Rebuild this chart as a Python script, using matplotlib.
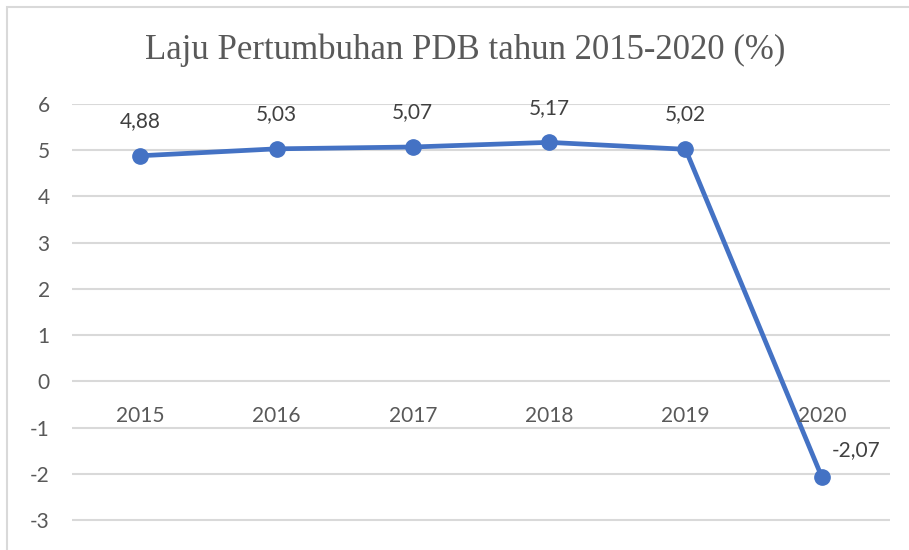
import matplotlib.pyplot as plt
from matplotlib.patches import Rectangle

years = ['2015', '2016', '2017', '2018', '2019', '2020']
growth = [4.88, 5.03, 5.07, 5.17, 5.02, -2.07]
labels = ['4,88', '5,03', '5,07', '5,17', '5,02', '-2,07']
yticks = [-3, -2, -1, 0, 1, 2, 3, 4, 5, 6]

blue = '#4472C4'
grey = '#595959'
grid = '#D9D9D9'

plt.rcParams['font.family'] = ['Lato', 'DejaVu Sans']

fig = plt.figure(figsize=(9.09, 5.5), dpi=100)
W, H = 909, 550

# chart frame (cropped at right/bottom)
fig.patches.append(Rectangle((7 / W, -0.1), 1.2, 1 - 7 / H + 0.1,
                             transform=fig.transFigure, fill=False,
                             edgecolor=grid, linewidth=1.5))

ax = fig.add_axes([72 / W, 0, (890 - 72) / W, 1 - 104 / H])
x = list(range(len(years)))
ax.plot(x, growth, color=blue, linewidth=3.4, marker='o', markersize=11,
        solid_capstyle='round', zorder=3)

ax.set_xlim(-0.5, len(years) - 0.5)
ax.set_ylim(-3.65, 6)
ax.set_yticks(yticks)
ax.set_yticklabels([str(v) for v in yticks])
ax.tick_params(axis='y', length=0, pad=16, labelsize=15, labelcolor=grey)
ax.set_xticks([])
for s in ax.spines.values():
    s.set_visible(False)
ax.grid(axis='y', color=grid, linewidth=1.5)
ax.set_axisbelow(True)
ax.patch.set_alpha(0)

# category labels sit just under the zero line
for xi, yr in zip(x, years):
    ax.annotate(yr, (xi, 0), xytext=(0, -25), textcoords='offset points',
                ha='center', va='center', fontsize=15, color=grey)

# data labels
for xi, v, lab in zip(x, growth, labels):
    if v < 0:
        off = (25, 19)
    else:
        off = (0, 25)
    ax.annotate(lab, (xi, v), xytext=off, textcoords='offset points',
                ha='center', va='center', fontsize=15, color='#404040')

fig.text(465 / W, 1 - 50 / H, 'Laju Pertumbuhan PDB tahun 2015-2020 (%)',
         ha='center', va='center', fontsize=25, color=grey,
         family=['Liberation Serif', 'DejaVu Serif'])

fig.savefig('out.png', dpi=100)
